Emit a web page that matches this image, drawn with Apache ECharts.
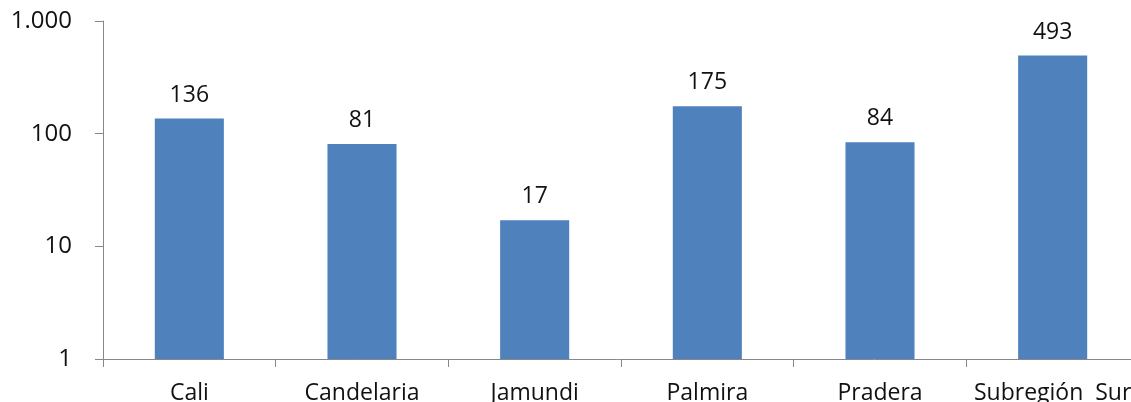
<!DOCTYPE html>
<html>
<head>
<meta charset="utf-8">
<script src="https://cdn.jsdelivr.net/npm/echarts@6/dist/echarts.min.js"></script>
<style>
  html, body { margin: 0; padding: 0; background: #fff; }
  #chart { width: 1131px; height: 402px; }
</style>
</head>
<body>
<div id="chart"></div>
<script>
// Municipalities and their counts (plotted on a log scale)
const categories = ['Cali', 'Candelaria', 'Jamundi', 'Palmira', 'Pradera', 'Subregión  Sur'];
const values = [136, 81, 17, 175, 84, 493];

const FONT = '"Open Sans", "Liberation Sans", sans-serif';
const AXIS_COLOR = '#888888';

// Thousands separator with a dot (1.000)
function fmtThousands(v) {
  return String(Math.round(v)).replace(/\B(?=(\d{3})+(?!\d))/g, '.');
}

const chart = echarts.init(document.getElementById('chart'), null, { renderer: 'canvas' });
chart.setOption({
  animation: false,
  grid: {
    left: 103, right: -8, top: 21, bottom: 43,
    containLabel: false,
    outerBoundsMode: 'none'
  },
  xAxis: {
    type: 'category',
    data: categories,
    axisLine: { lineStyle: { color: AXIS_COLOR, width: 1 } },
    axisTick: { show: true, length: 8, alignWithLabel: false, lineStyle: { color: AXIS_COLOR } },
    axisLabel: { color: '#111', fontFamily: FONT, fontSize: 23, margin: 23, interval: 0 }
  },
  yAxis: {
    type: 'log',
    logBase: 10,
    min: 1,
    max: 1000,
    splitLine: { show: false },
    axisLine: { show: true, lineStyle: { color: AXIS_COLOR, width: 1 } },
    axisTick: { show: true, length: 8, lineStyle: { color: AXIS_COLOR } },
    axisLabel: { color: '#111', fontFamily: FONT, fontSize: 24, margin: 31, formatter: fmtThousands }
  },
  series: [{
    type: 'bar',
    data: values,
    barWidth: '40%',
    itemStyle: { color: '#4F81BD' },
    label: {
      show: true,
      position: 'top',
      distance: 12,
      color: '#111',
      fontFamily: FONT,
      fontSize: 23
    }
  }]
});
</script>
</body>
</html>
